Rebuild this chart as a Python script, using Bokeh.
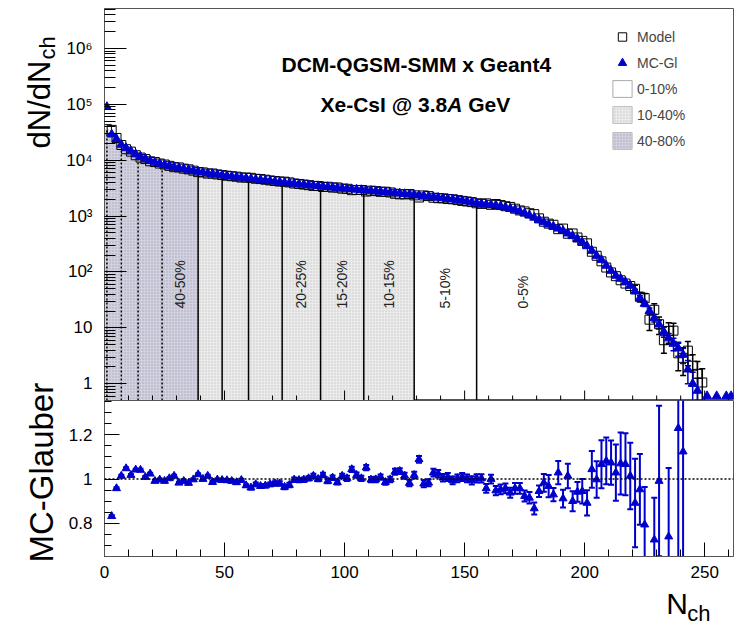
import math
import numpy as np
from bokeh.plotting import figure
from bokeh.layouts import column, row
from bokeh.models import (Range1d, FixedTicker, SingleIntervalTicker, Label, Span,
                          Legend, LegendItem, ColumnDataSource)
from bokeh.core.properties import value
from bokeh.embed import file_html
from bokeh.resources import INLINE

nan = float("nan")

# ---------------- data ----------------
nch = list(range(1, 262, 2))  # bin centres of N_ch (bin width 2)

mc_glauber = [
    90000, 29000, 24000, 19000, 16500, 14500, 12800, 11600, 10600, 9800,
    9200, 8700, 8300, 7950, 7600, 7300, 7000, 6750, 6500, 6250,
    6050, 5850, 5700, 5550, 5400, 5250, 5120, 5000, 4880, 4760,
    4650, 4550, 4450, 4350, 4250, 4160, 4070, 3980, 3900, 3820,
    3740, 3660, 3590, 3520, 3450, 3380, 3320, 3260, 3200, 3140,
    3090, 3040, 2990, 2940, 2890, 2840, 2790, 2740, 2690, 2640,
    2590, 2540, 2490, 2440, 2390, 2340, 2290, 2240, 2190, 2140,
    2090, 2040, 1990, 1940, 1890, 1830, 1770, 1700, 1660, 1620,
    1590, 1560, 1500, 1440, 1370, 1300, 1210, 1120, 1030, 940,
    860, 780, 710, 650, 600, 545, 490, 440, 390, 340,
    290, 240, 195, 165, 130, 105, 86, 76, 66, 57,
    45, 34, 27, 20, 15, 11.5, 8.5, 6.5, 5.2, 4.3,
    3.3, 1.8, 1.0, 0.75, nan, 0.6, nan, 0.6, nan, 0.6,
    0.6,
]

model = [
    36000, 34900, 25050, 18740, 15740, 14240, 12280, 11140, 10500, 9570,
    9280, 8730, 8380, 7930, 7500, 7430, 7060, 6870, 6510, 6120,
    6050, 5770, 5780, 5570, 5430, 5280, 5170, 5080, 4900, 4900,
    4840, 4660, 4600, 4480, 4350, 4240, 4150, 4130, 4010, 3830,
    3760, 3670, 3580, 3470, 3450, 3320, 3350, 3240, 3250, 3100,
    3080, 2910, 2940, 2930, 2750, 2850, 2800, 2720, 2730, 2650,
    2510, 2450, 2450, 2480, 2350, 2150, 2340, 2280, 2130, 2090,
    2080, 2020, 2000, 1930, 1870, 1825, 1780, 1695, 1655, 1690,
    1590, 1645, 1575, 1503, 1460, 1357, 1263, 1213, 1126, 1084,
    910, 793, 733, 699, 583, 598, 483, 489, 414, 360,
    325, 230, 195, 155, 120, 98, 84, 71, 62, 56,
    50, 36, 34, 14, 21, 11.6, 6.0, 8.8, 8.9, 3.5,
    2.9, 3.9, 2.1, 1.5, 1.05, nan, nan, nan, nan, nan,
    nan,
]

ratio = [
    nan, 0.832, 0.958, 1.014, 1.048, 1.018, 1.042, 1.041, 1.009, 1.024,
    0.991, 0.997, 0.991, 1.003, 1.014, 0.983, 0.991, 0.982, 0.998, 1.021,
    1.000, 1.014, 0.986, 0.997, 0.995, 0.994, 0.991, 0.985, 0.995, 0.971,
    0.961, 0.976, 0.968, 0.970, 0.976, 0.980, 0.980, 0.964, 0.973, 0.997,
    0.995, 0.997, 1.003, 1.014, 1.000, 1.018, 0.991, 1.006, 0.985, 1.014,
    1.003, 1.044, 1.018, 1.003, 1.052, 0.997, 0.998, 1.009, 0.986, 0.998,
    1.033, 1.036, 1.015, 0.982, 1.018, 1.089, 0.979, 0.983, 1.029, 1.024,
    1.006, 1.009, 0.994, 1.003, 1.009, 1.003, 0.994, 1.003, 1.003, 0.958,
    1.000, 0.948, 0.953, 0.958, 0.938, 0.958, 0.958, 0.923, 0.915, 0.867,
    0.945, 0.983, 0.968, 0.930, 1.029, 0.912, 1.014, 0.900, 0.942, 0.945,
    0.892, 1.044, 0.998, 1.067, 1.082, 1.074, 1.029, 1.070, 1.067, 1.014,
    0.892, 0.953, 0.794, nan, 0.726, 0.991, nan, 0.740, nan, 1.230,
    1.124, nan, nan, nan, nan, nan, nan, nan, nan, nan,
    nan,
]

ratio_err = [
    0, 0.005, 0.005, 0.005, 0.005, 0.005, 0.005, 0.005, 0.005, 0.005,
    0.005, 0.005, 0.005, 0.005, 0.005, 0.005, 0.005, 0.005, 0.005, 0.005,
    0.006, 0.006, 0.006, 0.006, 0.006, 0.006, 0.006, 0.006, 0.006, 0.006,
    0.008, 0.008, 0.008, 0.008, 0.008, 0.010, 0.010, 0.010, 0.010, 0.010,
    0.010, 0.010, 0.010, 0.010, 0.010, 0.010, 0.010, 0.010, 0.010, 0.010,
    0.012, 0.012, 0.012, 0.012, 0.012, 0.012, 0.012, 0.012, 0.012, 0.012,
    0.013, 0.013, 0.014, 0.014, 0.015, 0.015, 0.016, 0.016, 0.017, 0.017,
    0.017, 0.018, 0.018, 0.018, 0.018, 0.018, 0.019, 0.019, 0.019, 0.020,
    0.020, 0.021, 0.022, 0.022, 0.023, 0.024, 0.024, 0.025, 0.026, 0.027,
    0.026, 0.040, 0.050, 0.030, 0.053, 0.040, 0.055, 0.045, 0.045, 0.055,
    0.057, 0.083, 0.083, 0.108, 0.106, 0.100, 0.127, 0.140, 0.140, 0.150,
    0.200, 0.160, 0.170, 0, 0.190, 0.340, 0, 0.310, 0, 0.600,
    0.600, 0, 0, 0, 0, 0, 0, 0, 0, 0,
    0,
]

tail_nch = list(range(221, 251, 2))
mc_tail_err = [4, 3.5, 3, 2.7, 2.3, 2, 1.7, 1.4, 1.3, 1.2, 1.0, 0.8, 0.6, 0.5, 0]
model_tail_err = [8, 7, 7, 5, 6, 4, 2.5, 3.5, 3.2, 1.8, 1.5, 1.8, 1.2, 1.0, 0.8]

dotted_edges = [1, 7, 14, 24]                          # 70-80 ... 40-50 % cuts
solid_edges = [39, 49, 60, 74, 90, 108, 129, 155]      # 40 ... 5 % cuts
class_names = ["40-50%", "20-25%", "15-20%", "10-15%", "5-10%", "0-5%"]
peripheral_range = (0, 39)    # 40-80 %
semi_range = (39, 129)        # 10-40 %

# ---------------- layout / style constants ----------------
FONT = "Liberation Sans"
BLUE = "#0000cc"
DARK_FILL = "#d2d2de"
LIGHT_FILL = "#ebebeb"
YMIN, YMAX = 0.5, 5.2e6
XMAX = 262
class_label_x = [31.5, 82, 99, 118.5, 142, 174.5]
TOP_FRAME_H = 392
MID = 0.35  # em offset from alphabetic baseline to the "middle" anchor

n_arr = np.array(nch, dtype=float)
mc_arr = np.array(mc_glauber, dtype=float)
mod_arr = np.array(model, dtype=float)
ratio_arr = np.array(ratio, dtype=float)
rerr_arr = np.array(ratio_err, dtype=float)

# ================= top panel =================
p = figure(width=675, height=400, x_range=Range1d(0, XMAX), y_range=Range1d(YMIN, YMAX),
           y_axis_type="log", x_axis_location=None, output_backend="svg",
           toolbar_location=None,
           min_border_left=44, min_border_right=2, min_border_top=8, min_border_bottom=0)
p.xgrid.visible = False
p.ygrid.visible = False
p.outline_line_color = "#555555"
p.background_fill_color = "white"
p.border_fill_color = "white"

curve_top = np.fmin(mc_arr, mod_arr)


def step_area(lo, hi):
    xs, ys = [], []
    for n, v in zip(n_arr, curve_top):
        l, r = max(n - 1, lo), min(n + 1, hi)
        if r > l and np.isfinite(v):
            xs += [l, r]
            ys += [v, v]
    return xs, ys


xs, ys = step_area(*peripheral_range)
p.varea(x=xs, y1=[YMIN] * len(xs), y2=ys, fill_color=DARK_FILL,
        hatch_pattern="dot", hatch_color="#8080a8", hatch_alpha=0.55, hatch_scale=3,
        hatch_weight=1)
xs, ys = step_area(*semi_range)
p.varea(x=xs, y1=[YMIN] * len(xs), y2=ys, fill_color=LIGHT_FILL,
        hatch_pattern="dot", hatch_color="#a0a0a0", hatch_alpha=0.5, hatch_scale=3,
        hatch_weight=1)

ok = np.isfinite(curve_top)


def line_top(b):
    return float(10 ** np.interp(b, n_arr[ok], np.log10(curve_top[ok])))


p.segment(x0=dotted_edges, y0=[YMIN] * len(dotted_edges), x1=dotted_edges,
          y1=[line_top(b) for b in dotted_edges], line_color="black", line_width=1.5,
          line_dash="2 2")
p.segment(x0=solid_edges, y0=[YMIN] * len(solid_edges), x1=solid_edges,
          y1=[line_top(b) for b in solid_edges], line_color="black", line_width=1.5)

# ticks of the shared N_ch axis along the bottom edge of the upper pad
px_per_dec = TOP_FRAME_H / (math.log10(YMAX) - math.log10(YMIN))
t_major = [t for t in range(0, XMAX + 1, 50)]
t_minor = [t for t in range(0, XMAX + 1, 10) if t % 50]
p.segment(x0=t_major, y0=[YMIN] * len(t_major), x1=t_major,
          y1=[YMIN * 10 ** (10 / px_per_dec)] * len(t_major), line_color="black", line_width=1)
p.segment(x0=t_minor, y0=[YMIN] * len(t_minor), x1=t_minor,
          y1=[YMIN * 10 ** (5 / px_per_dec)] * len(t_minor), line_color="black", line_width=1)

# tail error bars
tail_idx = [nch.index(n) for n in tail_nch]
for vals, errs, col in ((mod_arr, model_tail_err, "black"), (mc_arr, mc_tail_err, BLUE)):
    bx, blo, bhi = [], [], []
    for i, e in zip(tail_idx, errs):
        v = vals[i]
        if np.isfinite(v) and e > 0:
            bx.append(nch[i])
            blo.append(max(v - e, 0.3))
            bhi.append(v + e)
    p.segment(x0=bx, y0=blo, x1=bx, y1=bhi, line_color=col, line_width=1.5)
    p.scatter(bx, bhi, marker="dash", size=6, line_color=col, line_width=1.5)
    p.scatter(bx, blo, marker="dash", size=6, line_color=col, line_width=1.5)

src = ColumnDataSource(dict(n=n_arr, mc=mc_arr, model=mod_arr))
sq = p.scatter("n", "model", source=src, marker="square", size=9, fill_color=None,
               line_color="black", line_width=1)
tr = p.scatter("n", "mc", source=src, marker="triangle", size=9, fill_color=BLUE,
               line_color=BLUE)

# legend proxies (zero-size boxes hidden in the corner of the frame)
proxy = dict(left=[0], right=[0], top=[YMIN], bottom=[YMIN])
b0 = p.quad(source=ColumnDataSource(proxy), left="left", right="right", top="top",
            bottom="bottom", fill_color="white", line_color="#aaaaaa")
b1 = p.quad(source=ColumnDataSource(proxy), left="left", right="right", top="top",
            bottom="bottom", fill_color=LIGHT_FILL, line_color="#bbbbbb",
            hatch_pattern="dot", hatch_color="#a0a0a0", hatch_alpha=0.5, hatch_scale=3)
b2 = p.quad(source=ColumnDataSource(proxy), left="left", right="right", top="top",
            bottom="bottom", fill_color=DARK_FILL, line_color="#bbbbbb",
            hatch_pattern="dot", hatch_color="#8080a8", hatch_alpha=0.55, hatch_scale=3)
legend = Legend(items=[LegendItem(label="Model", renderers=[sq]),
                       LegendItem(label="MC-Gl", renderers=[tr]),
                       LegendItem(label="0-10%", renderers=[b0]),
                       LegendItem(label="10-40%", renderers=[b1]),
                       LegendItem(label="40-80%", renderers=[b2])],
                location=(506, 249), border_line_color=None, background_fill_alpha=0,
                padding=0, margin=0, spacing=5, glyph_width=24, glyph_height=21,
                label_height=21, label_standoff=3, label_text_font=FONT,
                label_text_font_size="14px", label_text_baseline="middle")
p.add_layout(legend)

# y axis
p.yaxis.ticker = FixedTicker(
    ticks=[1, 10, 100, 1e3, 1e4, 1e5, 1e6],
    minor_ticks=[m * 10 ** k for k in range(-1, 7) for m in range(2, 10)
                 if YMIN <= m * 10 ** k <= YMAX])
p.yaxis.major_label_overrides = {1: "1", 10: "10", 100: "10²", 1000: "10³",
                                 10000: "10⁴", 100000: "10⁵", 1000000: "10⁶"}
ax = p.yaxis[0]
ax.major_tick_in = 22
ax.major_tick_out = 0
ax.minor_tick_in = 11
ax.minor_tick_out = 0
ax.major_label_standoff = 12
ax.major_label_text_font = FONT
ax.major_label_text_font_size = "17px"
ax.major_label_text_color = "black"
ax.axis_line_color = "#555555"
ax.major_tick_line_color = "black"
ax.minor_tick_line_color = "black"

# texts inside the upper pad (screen units, y up from the frame bottom)
TS = 21
p.add_layout(Label(x=311.8, y=328.3 + MID * TS, x_units="screen", y_units="screen",
                   text="DCM-QGSM-SMM x Geant4", text_align="center",
                   text_baseline="middle", text_font=FONT, text_font_style="bold",
                   text_font_size=f"{TS}px", text_color="black"))
xa = 342.7
y2 = 288.3 + MID * TS
p.add_layout(Label(x=xa, y=y2, x_units="screen", y_units="screen", text="Xe-CsI @ 3.8",
                   text_align="right", text_baseline="middle", text_font=FONT,
                   text_font_style="bold", text_font_size=f"{TS}px", text_color="black"))
p.add_layout(Label(x=xa, y=y2, x_units="screen", y_units="screen", text="A",
                   text_align="left", text_baseline="middle", text_font=FONT,
                   text_font_style="bold italic", text_font_size=f"{TS}px",
                   text_color="black"))
p.add_layout(Label(x=xa + 21.0, y=y2, x_units="screen", y_units="screen", text="GeV",
                   text_align="left", text_baseline="middle", text_font=FONT,
                   text_font_style="bold", text_font_size=f"{TS}px", text_color="black"))

for name, xc in zip(class_names, class_label_x):
    p.add_layout(Label(x=xc, y=92, x_units="data", y_units="screen", text=name,
                       angle=math.pi / 2, text_align="left", text_baseline="middle",
                       text_font=FONT, text_font_size="14px", text_color="#222222"))

# ================= ratio panel =================
r = figure(width=675, height=185, x_range=p.x_range, y_range=Range1d(0.65, 1.355),
           output_backend="svg", toolbar_location=None,
           min_border_left=44, min_border_right=2, min_border_top=0, min_border_bottom=29)
r.xgrid.visible = False
r.ygrid.visible = False
r.outline_line_color = "#555555"
r.background_fill_color = "white"
r.border_fill_color = "white"

r.add_layout(Span(location=1.0, dimension="width", line_color="black", line_dash="2 2",
                  line_width=1.5))

good = np.isfinite(ratio_arr)
eb = good & (rerr_arr > 0)
ex = n_arr[eb]
elo = ratio_arr[eb] - rerr_arr[eb]
ehi = ratio_arr[eb] + rerr_arr[eb]
r.segment(x0=ex, y0=elo, x1=ex, y1=ehi, line_color=BLUE, line_width=2)
r.scatter(ex, elo, marker="dash", size=6, line_color=BLUE, line_width=2)
r.scatter(ex, ehi, marker="dash", size=6, line_color=BLUE, line_width=2)
r.scatter(n_arr[good], ratio_arr[good], marker="triangle", size=8, fill_color=BLUE,
          line_color=BLUE)

r.yaxis.ticker = FixedTicker(ticks=[0.8, 1.0, 1.2],
                             minor_ticks=[0.7, 0.75, 0.85, 0.9, 0.95, 1.05, 1.1, 1.15,
                                          1.25, 1.3, 1.35])
r.yaxis.major_label_overrides = {0.8: "0.8", 1: "1", 1.2: "1.2"}
r.yaxis.major_tick_in = 15
r.yaxis.major_tick_out = 0
r.yaxis.minor_tick_in = 7
r.yaxis.minor_tick_out = 0
r.yaxis.major_label_standoff = 12

r.xaxis.ticker = SingleIntervalTicker(interval=50, num_minor_ticks=5)
r.xaxis.major_tick_in = 14
r.xaxis.major_tick_out = 0
r.xaxis.minor_tick_in = 7
r.xaxis.minor_tick_out = 0
r.xaxis.major_label_standoff = 9
for ax in (r.xaxis[0], r.yaxis[0]):
    ax.major_label_text_font = FONT
    ax.major_label_text_font_size = "17px"
    ax.major_label_text_color = "black"
    ax.axis_line_color = "#555555"
    ax.major_tick_line_color = "black"
    ax.minor_tick_line_color = "black"

# ================= axis-title strips (page pixel coordinates) =================
left = figure(width=60, height=625, x_range=Range1d(0, 60), y_range=Range1d(625, 0),
              x_axis_location=None, y_axis_location=None, output_backend="svg",
              toolbar_location=None, min_border_left=0, min_border_right=0,
              min_border_top=0, min_border_bottom=0)
left.grid.visible = False
left.outline_line_color = None


def vtext(fig, bx, by, txt, size):
    # bx = page x of the (rotated) baseline, by = page y where the text starts
    fig.text(x=[bx - MID * size], y=[by], text=[txt], angle=math.pi / 2, text_align="left",
             text_baseline="middle", text_font=value(FONT), text_font_size=f"{size}px",
             text_color="black")


vtext(left, 50, 148, "dN/dN", 31)
vtext(left, 54.5, 59, "ch", 22)
vtext(left, 53, 562, "MC-Glauber", 33)

bottom = figure(width=675, height=40, x_range=Range1d(60, 735), y_range=Range1d(625, 585),
                x_axis_location=None, y_axis_location=None, output_backend="svg",
                toolbar_location=None, min_border_left=0, min_border_right=0,
                min_border_top=0, min_border_bottom=0)
bottom.grid.visible = False
bottom.outline_line_color = None
bottom.text(x=[662.7], y=[613.0 - MID * 30], text=["N"], text_align="left",
            text_baseline="middle", text_font=value(FONT), text_font_size="30px",
            text_color="black")
bottom.text(x=[685.5], y=[620.5 - MID * 22], text=["ch"], text_align="left",
            text_baseline="middle", text_font=value(FONT), text_font_size="22px",
            text_color="black")

layout = row(left, column(p, r, bottom, spacing=0), spacing=0)
open("out.html", "w").write(file_html(layout, INLINE))
